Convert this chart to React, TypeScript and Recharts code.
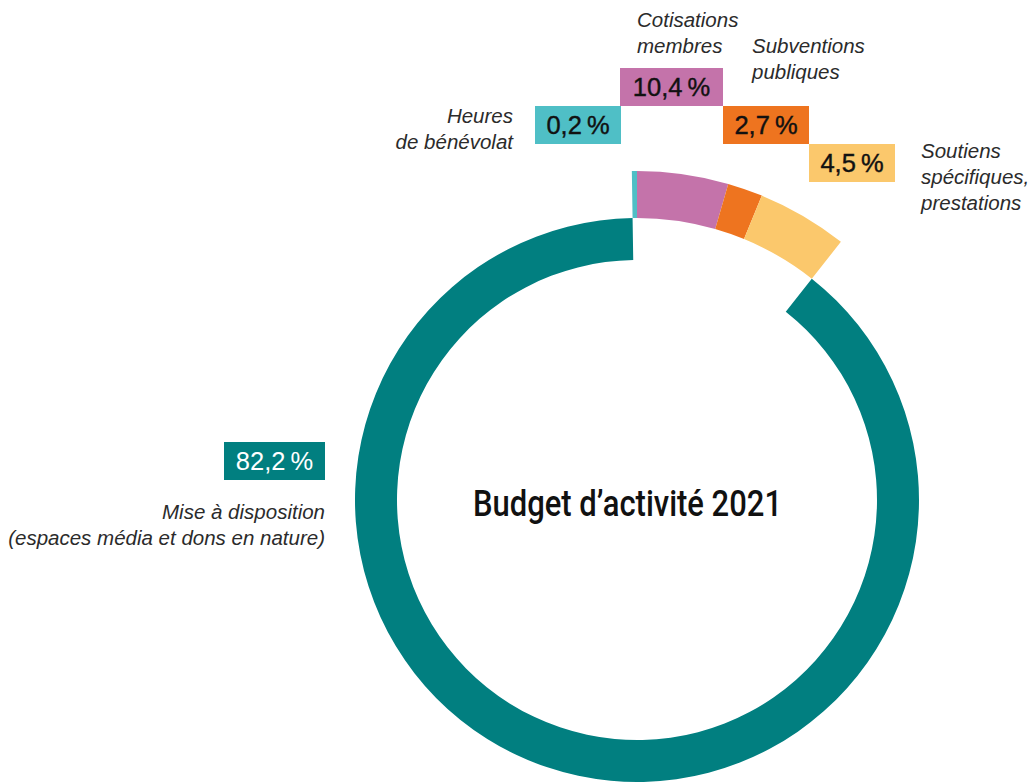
import React from 'react';
import { PieChart, Pie, Cell } from 'recharts';

// clockwise from 12 o'clock
const SEGMENTS = ['Heures de bénévolat', 'Cotisations membres', 'Subventions publiques', 'Soutiens spécifiques, prestations', 'Mise à disposition'];
const SHARE_LABELS = ['0,2\u202F%', '10,4\u202F%', '2,7\u202F%', '4,5\u202F%', '82,2\u202F%'];
// arc widths as drawn in the source graphic (degrees, not proportional to the shares)
const ARC_DEGREES = [0.9, 16.1, 6.2, 16.0, 320.8];
const COLORS = ['#4fbfc6', '#c473aa', '#ee741f', '#fbc86c', '#017f80'];

const data = SEGMENTS.map((name, i) => ({ name, arc: ARC_DEGREES[i], share: SHARE_LABELS[i] }));

// recharts adds the 5px chart margin to cx/cy
const CX = 632;
const CY = 495;
const START = 90 + ARC_DEGREES[0];

const labelFont = '"Liberation Sans", Arial, sans-serif';

const Note: React.FC<{ x: number; y: number; lines: string[]; align?: 'left' | 'right' }> = ({ x, y, lines, align = 'left' }) => (
  <div
    style={{
      position: 'absolute',
      top: y,
      left: align === 'left' ? x : undefined,
      right: align === 'right' ? 1031 - x : undefined,
      textAlign: align,
      fontFamily: labelFont,
      fontStyle: 'italic',
      fontSize: 20.5,
      lineHeight: '26px',
      color: '#2b2b2b',
      whiteSpace: 'nowrap',
    }}
  >
    {lines.map((l) => (
      <div key={l}>{l}</div>
    ))}
  </div>
);

const Badge: React.FC<{ x: number; y: number; w: number; idx: number }> = ({ x, y, w, idx }) => (
  <div
    style={{
      position: 'absolute',
      left: x,
      top: y,
      width: w,
      height: 38,
      background: COLORS[idx],
      color: idx === 4 ? '#ffffff' : '#111111',
      fontFamily: labelFont,
      fontSize: 25.5,
      lineHeight: '38px',
      textAlign: 'center',
      WebkitTextStroke: idx === 4 ? '0px' : '0.4px #111',
    }}
  >
    {SHARE_LABELS[idx]}
  </div>
);

const App: React.FC = () => {
  return (
    <div style={{ position: 'absolute', left: 0, top: 0, width: 1031, height: 783, background: '#fff', overflow: 'hidden' }}>
      <PieChart width={1031} height={783}>
        <Pie
          data={data}
          dataKey="arc"
          cx={CX}
          cy={CY}
          innerRadius={240}
          outerRadius={282}
          startAngle={START}
          endAngle={START - 360}
          stroke="none"
          isAnimationActive={false}
        >
          {data.map((d, i) => (
            <Cell key={`in-${i}`} fill={i === 4 ? COLORS[i] : 'transparent'} />
          ))}
        </Pie>
        <Pie
          data={data}
          dataKey="arc"
          cx={CX}
          cy={CY}
          innerRadius={282}
          outerRadius={329}
          startAngle={START}
          endAngle={START - 360}
          stroke="none"
          isAnimationActive={false}
        >
          {data.map((d, i) => (
            <Cell key={`out-${i}`} fill={i === 4 ? 'transparent' : COLORS[i]} />
          ))}
        </Pie>
        <text
          x={473}
          y={516}
          textLength={309}
          lengthAdjust="spacingAndGlyphs"
          style={{ fontFamily: 'Roboto, sans-serif', fontWeight: 500, fontSize: 36, fill: '#111' }}
        >
          Budget d’activité 2021
        </text>
      </PieChart>

      <Badge x={535} y={106} w={86} idx={0} />
      <Badge x={620} y={68} w={103} idx={1} />
      <Badge x={723} y={106} w={86} idx={2} />
      <Badge x={809} y={144} w={86} idx={3} />
      <Badge x={224} y={442} w={101} idx={4} />

      <Note x={513} y={103} lines={['Heures', 'de bénévolat']} align="right" />
      <Note x={637} y={7} lines={['Cotisations', 'membres']} />
      <Note x={752} y={33} lines={['Subventions', 'publiques']} />
      <Note x={921} y={138} lines={['Soutiens', 'spécifiques,', 'prestations']} />
      <Note x={325} y={499} lines={['Mise à disposition', '(espaces média et dons en nature)']} align="right" />
    </div>
  );
};

export default App;
